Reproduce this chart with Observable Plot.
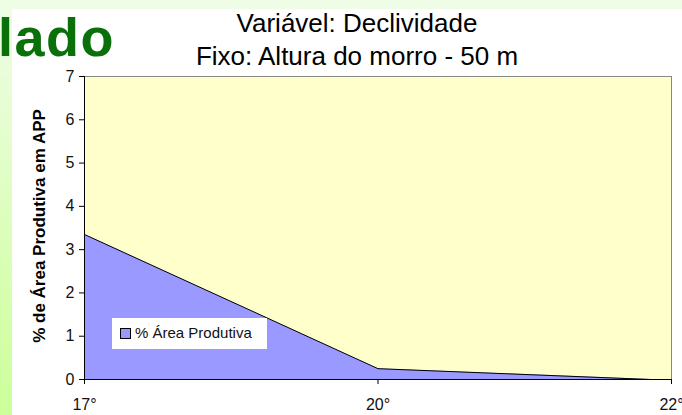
<!DOCTYPE html>
<html><head><meta charset="utf-8">
<script src="https://cdn.jsdelivr.net/npm/d3@7"></script>
<script src="https://cdn.jsdelivr.net/npm/@observablehq/plot@0.6"></script>
<style>
body{margin:0;background:#fff;}
#wrap{position:relative;width:682px;height:415px;overflow:hidden;font-family:"Liberation Sans",Arial,sans-serif;background:#fff;}
#topstrip{position:absolute;left:0;top:0;width:682px;height:9px;background:#effde6;}
#leftstrip{position:absolute;left:0;top:0;width:12px;height:415px;background:linear-gradient(#effde6,#ccff99);}
#chart{position:absolute;left:0;top:0;}
.title{position:absolute;left:357px;transform:translateX(-50%);white-space:nowrap;font-size:26px;line-height:30px;color:#000;}
#slide{position:absolute;left:-2px;top:7px;font-size:54px;line-height:60px;font-weight:bold;color:#0a700a;letter-spacing:1.5px;}
#ylab{position:absolute;left:40px;top:226px;transform:translate(-50%,-50%) rotate(-90deg);white-space:nowrap;font-size:17px;font-weight:bold;color:#000;}
#legend{position:absolute;left:112px;top:318px;width:155px;height:31px;background:#fff;}
#legend .sw{position:absolute;left:8px;top:10px;width:9px;height:9px;background:#9999ff;border:1px solid #000;}
#legend .tx{position:absolute;left:23px;top:6px;font-size:15px;color:#111;white-space:nowrap;}
</style></head>
<body>
<div id="wrap">
  <div id="topstrip"></div>
  <div id="leftstrip"></div>
  <div id="chart"></div>
  <div id="slide">lado</div>
  <div class="title" style="top:8px">Variável: Declividade</div>
  <div class="title" style="top:41px">Fixo: Altura do morro - 50 m</div>
  <div id="ylab">% de Área Produtiva em APP</div>
  <div id="legend"><div class="sw"></div><div class="tx">% Área Produtiva</div></div>
</div>
<script>
const degrees = [17, 20, 21.86, 22];
const areaProdutiva = [3.35, 0.25, 0, 0];
const xTicks = [17, 20, 22];
const yTicks = [0, 1, 2, 3, 4, 5, 6, 7];

const data = degrees.map((d, i) => ({deg: d, val: areaProdutiva[i]}));

const chart = Plot.plot({
  width: 682, height: 415,
  marginLeft: 84, marginRight: 11, marginTop: 76, marginBottom: 36,
  x: {type: "linear", domain: [17, 20, 22]},
  y: {domain: [0, 7]},
  style: {background: "transparent", fontFamily: "Liberation Sans, Arial, sans-serif", fontSize: "16px", color: "#111"},
  marks: [
    Plot.frame({fill: "#ffffcc", stroke: "#888"}),
    Plot.areaY(data, {x: "deg", y: "val", fill: "#9999ff"}),
    Plot.lineY(data, {x: "deg", y: "val", stroke: "#000", strokeWidth: 1}),
    Plot.ruleY([0], {stroke: "#000"}),
    Plot.ruleX([17], {stroke: "#000"}),
    Plot.axisY({ticks: yTicks, tickFormat: d3.format("d"), tickSize: 5, tickPadding: 5, label: null, stroke: "#000"}),
    Plot.axisX({ticks: xTicks, tickFormat: d => d + "°", tickSize: 5, tickPadding: 14, label: null, stroke: "#000"})
  ]
});
document.getElementById("chart").appendChild(chart);
</script>
</body></html>
